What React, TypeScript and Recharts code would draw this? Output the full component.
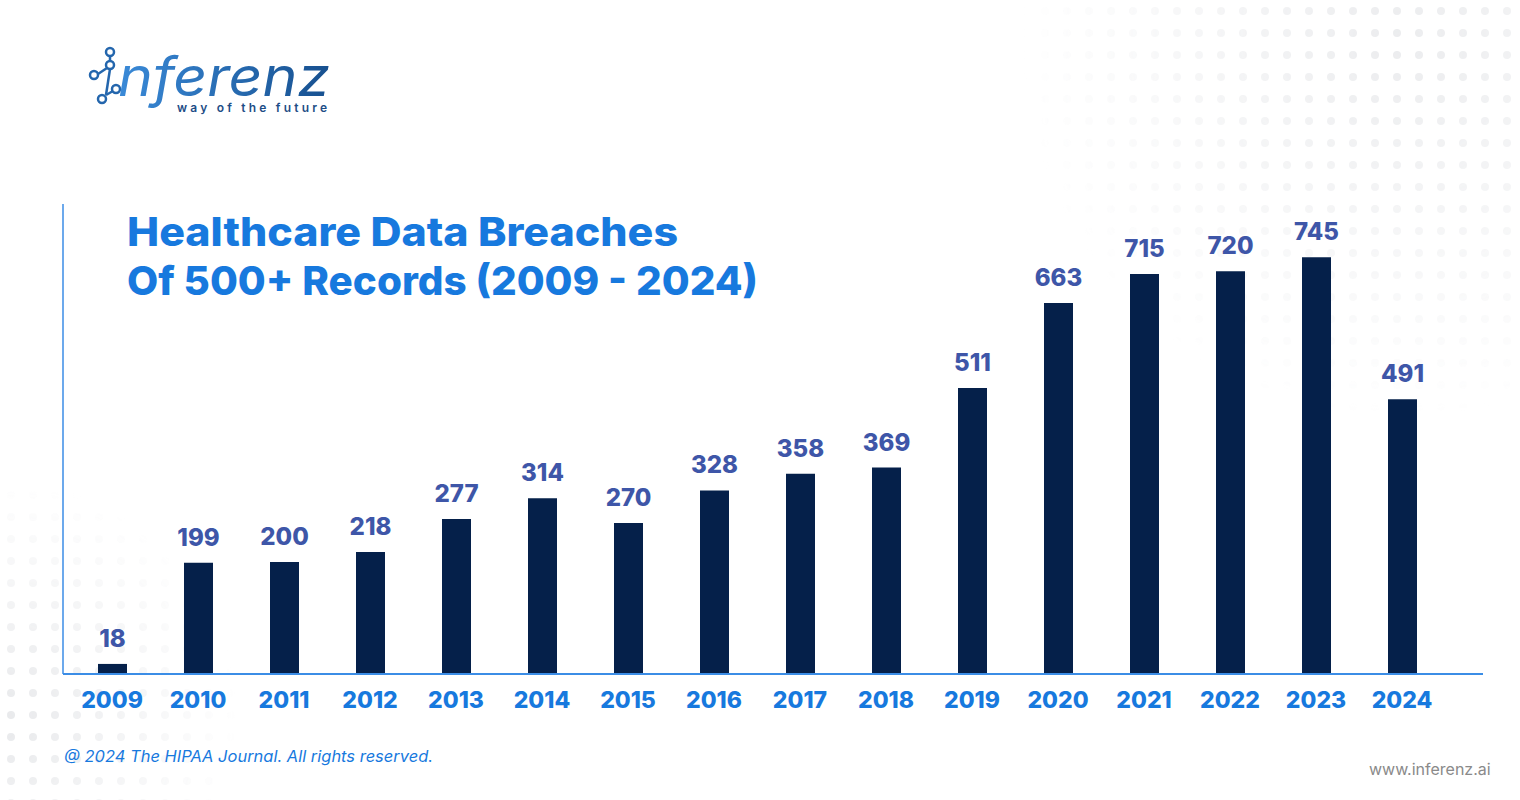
import React from "react";
import { BarChart, Bar, XAxis, YAxis, LabelList } from "recharts";

const years = [
  "2009", "2010", "2011", "2012", "2013", "2014", "2015", "2016",
  "2017", "2018", "2019", "2020", "2021", "2022", "2023", "2024",
];
const breaches = [18, 199, 200, 218, 277, 314, 270, 328, 358, 369, 511, 663, 715, 720, 745, 491];

const rows = years.map((year, i) => ({ year, breaches: breaches[i] }));

const FONT = "Inter, 'Open Sans', sans-serif";
const BLUE = "#1779de";
const NAVY = "#05204a";
const LABEL = "#3e56a8";

function Dots() {
  return (
    <svg width={1520} height={800} style={{ position: "absolute", left: 0, top: 0 }}>
      <defs>
        <pattern id="dots" width={22} height={22} patternUnits="userSpaceOnUse">
          <circle cx={11} cy={11} r={4} fill="#d6d8dc" />
        </pattern>
        <radialGradient id="fadeTR" cx="1400" cy="40" r="380" gradientUnits="userSpaceOnUse">
          <stop offset="0" stopColor="#fff" stopOpacity={0.8} />
          <stop offset="1" stopColor="#fff" stopOpacity={0} />
        </radialGradient>
        <radialGradient id="fadeBL" cx="0" cy="720" r="240" gradientUnits="userSpaceOnUse">
          <stop offset="0" stopColor="#fff" stopOpacity={0.8} />
          <stop offset="1" stopColor="#fff" stopOpacity={0} />
        </radialGradient>
        <mask id="mTR">
          <rect width={1520} height={800} fill="url(#fadeTR)" />
        </mask>
        <mask id="mBL">
          <rect width={1520} height={800} fill="url(#fadeBL)" />
        </mask>
      </defs>
      <rect width={1520} height={800} fill="url(#dots)" mask="url(#mTR)" opacity={0.6} />
      <rect width={1520} height={800} fill="url(#dots)" mask="url(#mBL)" opacity={0.7} />
    </svg>
  );
}

function Logo() {
  return (
    <svg width={360} height={130} style={{ position: "absolute", left: 0, top: 0 }}>
      <defs>
        <linearGradient id="logoGrad" x1="0" x2="1" y1="0" y2="0">
          <stop offset="0" stopColor="#3a8ad8" />
          <stop offset="1" stopColor="#17508f" />
        </linearGradient>
      </defs>
      <g stroke="#2466ad" strokeWidth={2.5} fill="none">
        <circle cx={110} cy={52} r={4} />
        <circle cx={110} cy={65} r={4} />
        <circle cx={94} cy={75} r={4} />
        <circle cx={116} cy={89} r={4} />
        <circle cx={102} cy={99} r={4} />
        <line x1={110} y1={56} x2={110} y2={61} />
        <line x1={107} y1={68} x2={98} y2={74} />
        <line x1={110} y1={69} x2={106} y2={95} />
        <line x1={106} y1={95} x2={113} y2={91} />
      </g>
      <text
        x={118}
        y={96}
        fontFamily={FONT}
        fontStyle="italic"
        fontSize={54}
        fill="url(#logoGrad)"
        textLength={212}
        lengthAdjust="spacingAndGlyphs"
      >
        nferenz
      </text>
      <text
        x={177}
        y={112}
        fontFamily={FONT}
        fontWeight={600}
        fontSize={12}
        fill="#1d4d86"
        textLength={150}
        lengthAdjust="spacing"
      >
        way of the future
      </text>
    </svg>
  );
}

export default function App() {
  return (
    <div
      style={{
        position: "absolute",
        left: 0,
        top: 0,
        width: 1520,
        height: 800,
        background: "#ffffff",
        overflow: "hidden",
        fontFamily: FONT,
      }}
    >
      <Dots />
      <Logo />
      <div style={{ position: "absolute", left: 0, top: 0 }}>
        <BarChart
          width={1520}
          height={800}
          data={rows}
          margin={{ top: 204, right: 37, left: 0, bottom: 86 }}
          barSize={29}
        >
          <XAxis
            dataKey="year"
            axisLine={{ stroke: "#3b8de6", strokeWidth: 2 }}
            tickLine={false}
            height={40}
            tickMargin={12}
            padding={{ left: 6, right: 38 }}
            tick={{ fill: BLUE, fontSize: 23, fontWeight: 800, fontFamily: FONT }}
            interval={0}
          />
          <YAxis
            domain={[0, 840]}
            width={63}
            tick={false}
            tickLine={false}
            axisLine={{ stroke: "#3b8de6", strokeWidth: 1.5 }}
          />
          <Bar dataKey="breaches" fill={NAVY} isAnimationActive={false}>
            <LabelList
              dataKey="breaches"
              position="top"
              offset={17}
              fill={LABEL}
              fontSize={24}
              fontWeight={800}
              fontFamily={FONT}
            />
          </Bar>
        </BarChart>
      </div>
      <svg width={1520} height={800} style={{ position: "absolute", left: 0, top: 0, pointerEvents: "none" }}>
        <text
          x={127}
          y={246}
          fontFamily={FONT}
          fontWeight={800}
          fontSize={40}
          fill={BLUE}
          textLength={551}
          lengthAdjust="spacingAndGlyphs"
        >
          Healthcare Data Breaches
        </text>
        <text
          x={127}
          y={295}
          fontFamily={FONT}
          fontWeight={800}
          fontSize={40}
          fill={BLUE}
          textLength={631}
          lengthAdjust="spacingAndGlyphs"
        >
          Of 500+ Records (2009 - 2024)
        </text>
        <text
          x={64}
          y={762}
          fontFamily={FONT}
          fontStyle="italic"
          fontSize={16}
          fill={BLUE}
          textLength={369}
          lengthAdjust="spacingAndGlyphs"
        >
          @ 2024 The HIPAA Journal. All rights reserved.
        </text>
        <text x={1369} y={775} fontFamily={FONT} fontSize={16} fill="#8a8a8a">
          www.inferenz.ai
        </text>
      </svg>
    </div>
  );
}
